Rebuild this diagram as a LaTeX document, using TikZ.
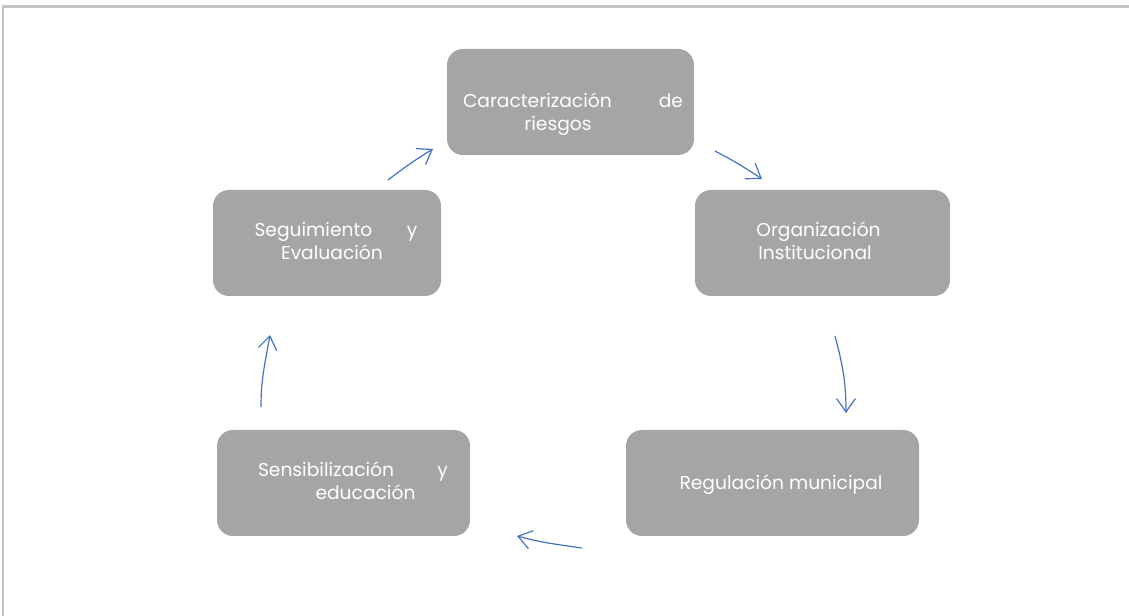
\documentclass[tikz,border=0pt]{standalone}
\usepackage{fontspec}
\setmainfont{Poppins}
\usetikzlibrary{arrows.meta}
\definecolor{boxgray}{HTML}{A5A5A5}
\definecolor{framegray}{HTML}{C4C4C4}
\definecolor{arrowblue}{HTML}{4472C4}
\begin{document}
\begin{tikzpicture}[x=0.75pt,y=-0.75pt,
  stepbox/.style={fill=boxgray,rounded corners=12pt,draw=none,inner sep=0pt},
  lbl/.style={text=white,font=\fontsize{14pt}{17pt}\selectfont,inner sep=0pt,anchor=base},
  flow/.style={draw=arrowblue,line width=0.9pt,-{Straight Barb[length=10pt,width=14pt,line width=0.9pt]}}]
\useasboundingbox (0,0) rectangle (1129,616);
% frame
\draw[framegray,line width=1.6pt] (3,616) -- (3,6.5) -- (1129,6.5);
% boxes
\node[stepbox,minimum width=185.25pt,minimum height=79.5pt] (car) at (570.5,102) {};
\node[stepbox,minimum width=191.25pt,minimum height=79.5pt] (org) at (822.5,243) {};
\node[stepbox,minimum width=219.75pt,minimum height=79.5pt] (reg) at (772.5,483) {};
\node[stepbox,minimum width=189.75pt,minimum height=79.5pt] (sen) at (343.5,483) {};
\node[stepbox,minimum width=171pt,minimum height=79.5pt] (seg) at (327,243) {};
% labels
\node[lbl] (car1) at (573,108) {\makebox[165pt][s]{Caracterización\hfill de}};
\node[lbl] (car2) at (558,131) {riesgos};
\node[lbl] (org1) at (818.5,237) {Organización};
\node[lbl] (org2) at (815,260) {Institucional};
\node[lbl] (reg1) at (781,490) {Regulación municipal};
\node[lbl] (seg1) at (336,237) {\makebox[122.25pt][s]{Seguimiento\hfill y}};
\node[lbl] (seg2) at (332,260) {Evaluación};
\node[lbl] (sen1) at (353,477) {\makebox[142.5pt][s]{Sensibilización\hfill y}};
\node[lbl] (sen2) at (365.5,500) {educación};
% connector endpoints
\coordinate (a1s) at (388,180); \coordinate (a1e) at (433,149);
\coordinate (a2s) at (715,151); \coordinate (a2e) at (762,179);
\coordinate (a3s) at (835,336); \coordinate (a3e) at (846,413);
\coordinate (a4s) at (582,548); \coordinate (a4e) at (517,536);
\coordinate (a5s) at (261,407); \coordinate (a5e) at (270,335);
% arrows
\draw[flow] (a1s) to[bend left=3] (a1e);
\draw[flow] (a2s) to[bend left=3] (a2e);
\draw[flow] (a3s) to[out=-75,in=90] (a3e);
\draw[flow] (a4s) to[out=172,in=-15] (a4e);
\draw[flow] (a5s) to[out=90,in=-100] (a5e);
\end{tikzpicture}
\end{document}
